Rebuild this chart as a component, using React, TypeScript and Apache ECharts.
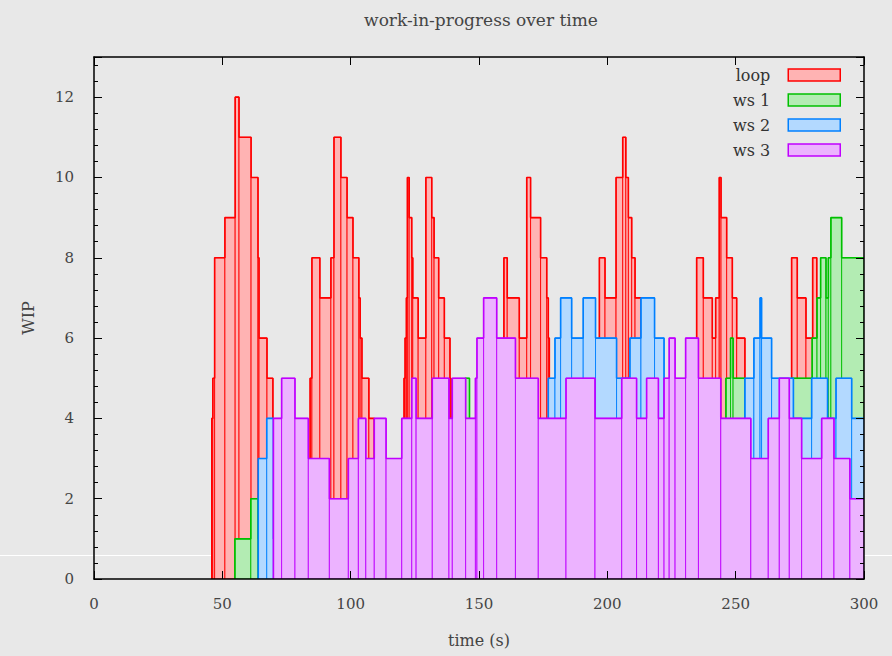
import React, { useEffect, useRef } from 'react';
import * as echarts from 'echarts';

const seriesNames = ['loop', 'ws 1', 'ws 2', 'ws 3'];
const lineColors = ['#ff0000', '#00c000', '#0080ff', '#c000ff'];
const fillColors = ['#ffb3b3', '#b3ecb3', '#b3d9ff', '#ecb3ff'];

const X_MIN = 0;
const X_MAX = 300;
const X_STEP = 50;
const Y_MIN = 0;
const Y_MAX = 13;
const Y_STEP = 2;

// [time (s), WIP from this time on]
const loopSteps: [number, number][] = [
  [45.9, 4], [46.3, 5], [47.0, 8], [51.0, 9], [55.0, 12], [56.5, 11], [61.2, 10], [63.9, 8], [64.3, 6], [67.4, 5],
  [69.7, 2], [84.2, 5], [84.9, 8], [88.0, 7], [92.3, 8], [93.5, 11], [96.2, 10], [98.6, 9], [100.9, 8], [103.2, 7],
  [103.7, 6], [104.4, 5], [107.1, 4], [109.2, 2], [120.8, 5], [121.2, 6], [121.7, 7], [122.1, 10], [122.8, 9], [123.8, 8],
  [124.2, 7], [126.3, 6], [129.3, 10], [131.6, 9], [132.5, 8], [134.3, 7], [136.5, 6], [138.7, 5], [139.1, 2], [159.7, 8],
  [161.0, 7], [165.7, 6], [168.6, 10], [170.1, 9], [174.0, 8], [176.4, 7], [177.0, 6], [177.4, 2], [196.9, 8], [199.1, 7],
  [203.4, 10], [206.0, 11], [207.2, 10], [208.2, 9], [209.5, 8], [210.8, 7], [213.1, 2], [234.8, 8], [237.4, 7], [240.9, 6],
  [242.2, 7], [243.6, 10], [244.3, 9], [246.5, 8], [248.7, 7], [250.4, 6], [253.6, 2], [271.8, 8], [274.0, 7], [277.4, 6],
  [280.0, 8], [281.6, 7], [282.5, 2],
];

const ws1Steps: [number, number][] = [
  [54.9, 1], [61.1, 2], [63.9, 1], [144.6, 5], [146.3, 1], [246.2, 5], [248.0, 6], [249.0, 5], [253.6, 4], [271.8, 5],
  [279.8, 6], [281.7, 7], [283.1, 8], [285.2, 7], [286.1, 8], [287.1, 9], [291.3, 8],
];

const ws2Steps: [number, number][] = [
  [64.0, 3], [67.3, 4], [69.9, 1], [177.0, 5], [179.6, 6], [181.8, 7], [186.1, 6], [190.6, 7], [195.4, 6], [203.6, 5],
  [208.8, 6], [213.1, 7], [218.4, 6], [222.1, 1], [253.6, 5], [257.1, 6], [259.5, 7], [260.1, 6], [264.0, 5], [272.5, 4],
  [279.6, 5], [285.8, 4], [289.1, 5], [295.2, 4],
];

const ws3Steps: [number, number][] = [
  [69.9, 4], [73.1, 5], [78.3, 4], [83.5, 3], [91.7, 2], [99.1, 3], [103.0, 4], [105.9, 3], [109.2, 4], [113.8, 3],
  [119.9, 4], [123.8, 5], [125.5, 4], [131.8, 5], [138.3, 4], [139.6, 5], [144.8, 4], [148.6, 5], [149.2, 6], [151.8, 7],
  [156.9, 6], [164.2, 5], [173.1, 4], [183.9, 5], [195.2, 4], [205.6, 5], [211.4, 4], [215.3, 5], [219.9, 4], [222.1, 5],
  [224.1, 6], [226.4, 5], [230.5, 6], [235.5, 5], [244.2, 4], [255.9, 3], [262.7, 4], [267.0, 5], [270.9, 4], [275.7, 3],
  [283.5, 4], [288.3, 3], [294.5, 2],
];

const allSteps = [loopSteps, ws1Steps, ws2Steps, ws3Steps];

const FONT = "'DejaVu Serif', 'Liberation Serif', serif";

function toRects(steps: [number, number][]) {
  return steps.map((s, i) => [s[0], i + 1 < steps.length ? steps[i + 1][0] : X_MAX, s[1]]);
}

function toOutline(steps: [number, number][]) {
  return [[steps[0][0], 0], ...steps.map((s) => [s[0], s[1]]), [X_MAX, steps[steps.length - 1][1]]];
}

export default function App() {
  const ref = useRef<HTMLDivElement>(null);

  useEffect(() => {
    if (!ref.current) return;
    const chart = echarts.init(ref.current, undefined, { renderer: 'svg' });

    const series: any[] = [];
    allSteps.forEach((steps, i) => {
      const fill = fillColors[i];
      const stroke = lineColors[i];
      series.push({
        type: 'custom',
        name: seriesNames[i],
        data: toRects(steps),
        dimensions: ['start', 'end', 'wip'],
        encode: { x: [0, 1], y: 2 },
        clip: true,
        z: 2 + i * 2,
        renderItem: (params: any, api: any) => {
          const p0 = api.coord([api.value(0), api.value(2)]);
          const p1 = api.coord([api.value(1), 0]);
          return {
            type: 'rect',
            shape: { x: p0[0], y: p0[1], width: p1[0] - p0[0], height: p1[1] - p0[1] },
            style: { fill, stroke, lineWidth: 0.9, opacity: 1 },
          };
        },
      });
      series.push({
        type: 'line',
        name: seriesNames[i],
        step: 'end',
        symbol: 'none',
        showSymbol: false,
        data: toOutline(steps),
        lineStyle: { color: stroke, width: 1.6 },
        itemStyle: { color: stroke },
        z: 3 + i * 2,
        clip: true,
      });
    });

    const axisCommon = {
      type: 'value' as const,
      splitLine: { show: false },
      axisLine: { show: true, onZero: false, lineStyle: { color: '#000', width: 1.5 } },
      axisTick: { show: true, inside: true, length: 8, lineStyle: { color: '#000', width: 1 } },
      z: 20,
    };

    chart.setOption({
      animation: false,
      backgroundColor: '#e8e8e8',
      title: {
        text: 'work-in-progress over time',
        left: 476,
        top: 6,
        textAlign: 'center',
        textStyle: { fontFamily: FONT, fontSize: 17, fontWeight: 'normal', color: '#444' },
      },
      legend: {
        orient: 'vertical',
        right: 51,
        top: 67,
        align: 'right',
        padding: 0,
        itemWidth: 52,
        itemHeight: 12,
        itemGap: 9,
        selectedMode: false,
        textStyle: { fontFamily: FONT, fontSize: 16, color: '#333', padding: [0, 13, 0, 0] },
        data: seriesNames.map((n, i) => ({
          name: n,
          icon: 'rect',
          itemStyle: { color: fillColors[i], borderColor: lineColors[i], borderWidth: 1.5 },
        })),
      },
      grid: { left: 94, right: 28, top: 57, bottom: 77, containLabel: false },
      graphic: [
        {
          type: 'line',
          z: 0,
          shape: { x1: 0, y1: 555.5, x2: 892, y2: 555.5 },
          style: { stroke: '#ffffff', lineWidth: 1 },
          silent: true,
        },
      ],
      xAxis: [
        {
          ...axisCommon,
          position: 'bottom',
          min: X_MIN,
          max: X_MAX,
          interval: X_STEP,
          axisLabel: { margin: 17, fontFamily: FONT, fontSize: 15, color: '#444' },
          name: 'time (s)',
          nameLocation: 'middle',
          nameGap: 53,
          nameTextStyle: { fontFamily: FONT, fontSize: 16, color: '#444' },
        },
        {
          ...axisCommon,
          position: 'top',
          min: X_MIN,
          max: X_MAX,
          interval: X_STEP,
          axisLabel: { show: false },
        },
      ],
      yAxis: [
        {
          ...axisCommon,
          position: 'left',
          min: Y_MIN,
          max: Y_MAX,
          interval: Y_STEP,
          axisLabel: { margin: 20, fontFamily: FONT, fontSize: 15, color: '#444', showMaxLabel: false },
          minorTick: { show: true, splitNumber: 5, length: 4, lineStyle: { color: '#000' } },
          name: 'WIP',
          nameLocation: 'middle',
          nameGap: 58,
          nameTextStyle: { fontFamily: FONT, fontSize: 16, color: '#444' },
        },
        {
          ...axisCommon,
          position: 'right',
          min: Y_MIN,
          max: Y_MAX,
          interval: Y_STEP,
          axisLabel: { show: false },
          minorTick: { show: true, splitNumber: 5, length: 4, lineStyle: { color: '#000' } },
        },
      ],
      series,
    });

    return () => chart.dispose();
  }, []);

  return <div ref={ref} style={{ position: 'absolute', left: 0, top: 0, width: 892, height: 656 }} />;
}
